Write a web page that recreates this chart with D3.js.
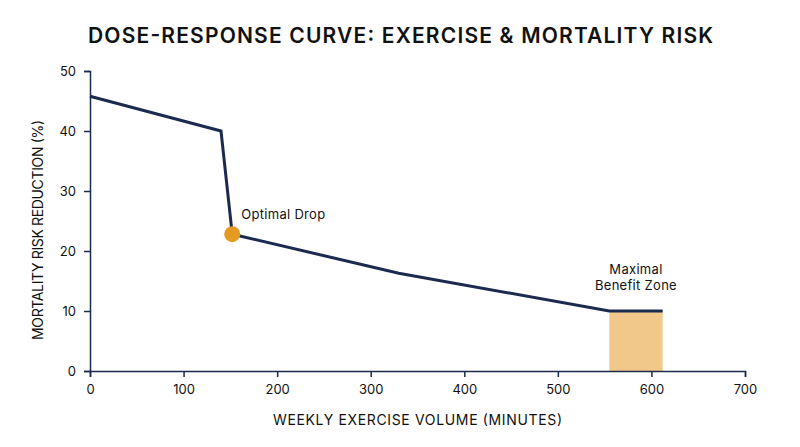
<!DOCTYPE html>
<html><head><meta charset="utf-8">
<script src="https://cdn.jsdelivr.net/npm/d3@7"></script>
<style>body{margin:0;background:#fff}svg{font-family:Inter,"Open Sans",sans-serif}</style>
</head><body><svg id="c" width="800" height="447"></svg>
<script>
const xs=[0,140,152,330,555,612];
const ys=[45.8,40,22.8,16.3,10,10];
const xTicks=[0,100,200,300,400,500,600,700];
const yTicks=[0,10,20,30,40,50];
const zone=[555,612];
const dropPoint=[152,22.8];
const navy="#1b2a4e";
const svg=d3.select("#c");
const x=d3.scaleLinear().domain([0,700]).range([90,745]);
const y=d3.scaleLinear().domain([0,50]).range([371,71]);
svg.append("text").attr("x",88).attr("y",43).attr("font-size",21).attr("font-weight",600).attr("fill","#111").attr("textLength",625).attr("lengthAdjust","spacing").text("DOSE-RESPONSE CURVE: EXERCISE & MORTALITY RISK");
svg.append("rect").attr("x",x(zone[0])).attr("width",x(zone[1])-x(zone[0])).attr("y",y(10)).attr("height",y(0)-y(10)).attr("fill","#f2c88a");
const ax=svg.append("g").attr("transform","translate(0,371)").call(d3.axisBottom(x).tickValues(xTicks).tickSize(6).tickPadding(8));
const ay=svg.append("g").attr("transform","translate(90,0)").call(d3.axisLeft(y).tickValues(yTicks).tickSize(6).tickPadding(8));
[ax,ay].forEach(a=>{a.selectAll("path,line").attr("stroke",navy).attr("stroke-width",1.5);a.selectAll("text").attr("font-size",13).attr("fill","#111").attr("font-family","Inter,sans-serif");});
svg.append("path").datum(xs.map((v,i)=>[v,ys[i]])).attr("d",d3.line().x(d=>x(d[0])).y(d=>y(d[1]))).attr("fill","none").attr("stroke",navy).attr("stroke-width",3);
svg.append("circle").attr("cx",x(dropPoint[0])).attr("cy",y(dropPoint[1])).attr("r",8).attr("fill","#e59a22");
svg.append("text").attr("x",x(dropPoint[0])+9).attr("y",y(dropPoint[1])-15).attr("font-size",13).attr("fill","#111").attr("letter-spacing",0.3).text("Optimal Drop");
svg.append("text").attr("x",(x(zone[0])+x(zone[1]))/2).attr("y",y(10)-37).attr("text-anchor","middle").attr("font-size",13).attr("fill","#111").attr("letter-spacing",0.3).selectAll("tspan").data(["Maximal","Benefit Zone"]).join("tspan").attr("x",(x(zone[0])+x(zone[1]))/2).attr("dy",(d,i)=>i?16:0).text(d=>d);
svg.append("text").attr("x",273).attr("y",425).attr("font-size",14).attr("fill","#111").attr("textLength",289).attr("lengthAdjust","spacing").text("WEEKLY EXERCISE VOLUME (MINUTES)");
svg.append("text").attr("transform","translate(43,340) rotate(-90)").attr("font-size",14).attr("fill","#111").attr("textLength",220).attr("lengthAdjust","spacing").text("MORTALITY RISK REDUCTION (%)");
</script></body></html>
